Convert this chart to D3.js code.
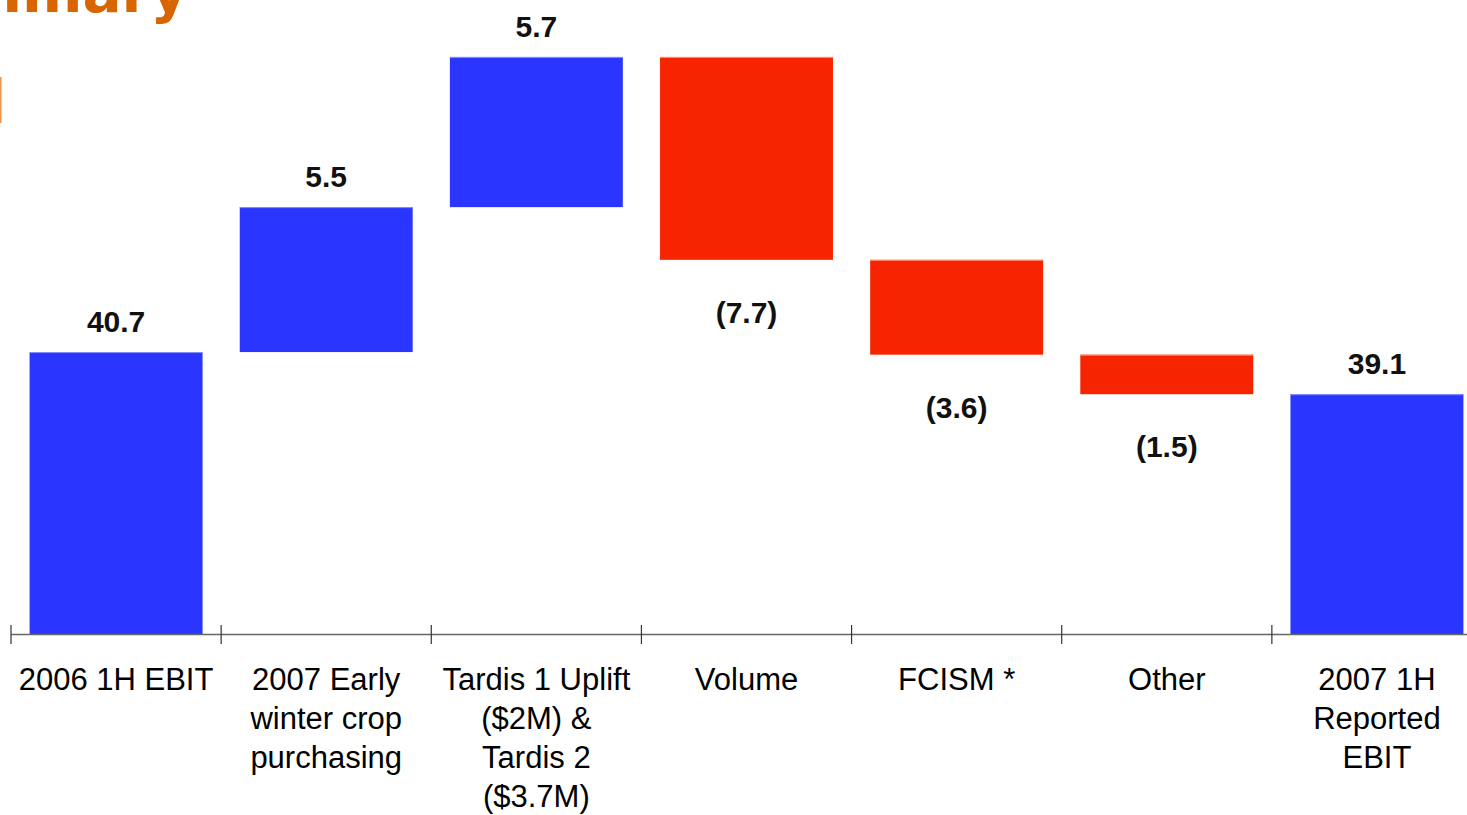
<!DOCTYPE html>
<html>
<head>
<meta charset="utf-8">
<script src="https://cdn.jsdelivr.net/npm/d3@7"></script>
<style>
  html, body { margin: 0; padding: 0; background: #ffffff; overflow: hidden; }
  svg { display: block; }
</style>
</head>
<body>
<svg id="chart" width="1467" height="815"></svg>
<script>
// EBIT bridge, 2006 1H -> 2007 1H ($M)
const categories = [
  "2006 1H EBIT",
  "2007 Early\nwinter crop\npurchasing",
  "Tardis 1 Uplift\n($2M) &\nTardis 2\n($3.7M)",
  "Volume",
  "FCISM *",
  "Other",
  "2007 1H\nReported\nEBIT"
];
const values = [40.7, 5.5, 5.7, -7.7, -3.6, -1.5, 39.1];
const kinds = ["total", "delta", "delta", "delta", "delta", "delta", "total"];
const valueAxisFloor = 30;   // value axis starts at 30
const valueAxisCeil = 52;
const titleText = "Summary";

const svg = d3.select("#chart");
const W = 1467;

// running totals for the waterfall
let running = 0;
const bars = categories.map((c, i) => {
  let lo, hi;
  if (kinds[i] === "total") {
    lo = valueAxisFloor; hi = values[i]; running = values[i];
  } else {
    const start = running;
    running = start + values[i];
    lo = Math.min(start, running); hi = Math.max(start, running);
  }
  return { cat: c, value: values[i], kind: kinds[i], lo, hi };
});

const x = d3.scaleBand()
  .domain(categories)
  .range([11, 1482])
  .paddingInner(0.177)
  .paddingOuter(0.0885);

const y = d3.scaleLinear()
  .domain([valueAxisFloor, valueAxisCeil])
  .range([634, 634 - 22 * 26.35]);

const blue = "#2a35ff", red = "#f72400";
const blueEdge = "#8a90ff", redEdge = "#ff8f78";

// slide title, running off the top-left corner
svg.append("text")
  .attr("x", 188).attr("y", 12)
  .attr("text-anchor", "end")
  .style("font-family", "'DejaVu Sans', sans-serif")
  .style("font-weight", "bold")
  .style("font-size", "58px")
  .attr("fill", "#d96500")
  .text(titleText);

svg.append("rect")
  .attr("x", 0).attr("y", 77).attr("width", 1.5).attr("height", 46)
  .attr("fill", "#ec944c");

// bars
const g = svg.append("g");
g.selectAll("rect.bar")
  .data(bars)
  .join("rect")
  .attr("class", "bar")
  .attr("x", d => x(d.cat))
  .attr("width", x.bandwidth())
  .attr("y", d => y(d.hi))
  .attr("height", d => y(d.lo) - y(d.hi))
  .attr("fill", d => d.value >= 0 ? blue : red);

// light top edge on each bar
g.selectAll("line.edge")
  .data(bars)
  .join("line")
  .attr("class", "edge")
  .attr("x1", d => x(d.cat))
  .attr("x2", d => x(d.cat) + x.bandwidth())
  .attr("y1", d => y(d.hi) + 0.5)
  .attr("y2", d => y(d.hi) + 0.5)
  .attr("stroke", d => d.value >= 0 ? blueEdge : redEdge)
  .attr("stroke-width", 1);

// category axis
const axisY = 634.5;
const step = x.step();
const firstEdge = x(categories[0]) - (step - x.bandwidth()) / 2;
svg.append("line")
  .attr("x1", firstEdge).attr("x2", W)
  .attr("y1", axisY).attr("y2", axisY)
  .attr("stroke", "#666").attr("stroke-width", 1.5);

svg.selectAll("line.tick")
  .data(d3.range(categories.length))
  .join("line")
  .attr("class", "tick")
  .attr("x1", i => firstEdge + i * step)
  .attr("x2", i => firstEdge + i * step)
  .attr("y1", 625).attr("y2", 644)
  .attr("stroke", "#333").attr("stroke-width", 1.2);

// category labels
const catText = svg.selectAll("text.cat")
  .data(categories)
  .join("text")
  .attr("class", "cat")
  .attr("text-anchor", "middle")
  .attr("x", d => x(d) + x.bandwidth() / 2)
  .attr("y", 690)
  .style("font-family", "'Liberation Sans', Arial, sans-serif")
  .style("font-size", "31px")
  .attr("fill", "#000");
catText.each(function(d) {
  const t = d3.select(this);
  const cx = x(d) + x.bandwidth() / 2;
  d.split("\n").forEach((line, k) => {
    t.append("tspan").attr("x", cx).attr("dy", k === 0 ? 0 : 39).text(line);
  });
});

// value labels
const fmt = v => v < 0 ? "(" + d3.format(".1f")(-v) + ")" : d3.format(".1f")(v);
svg.selectAll("text.val")
  .data(bars)
  .join("text")
  .attr("class", "val")
  .attr("text-anchor", "middle")
  .attr("x", d => x(d.cat) + x.bandwidth() / 2)
  .attr("y", d => d.value >= 0 ? y(d.hi) - 20 : y(d.lo) + 63)
  .style("font-family", "'Liberation Sans', Arial, sans-serif")
  .style("font-weight", "bold")
  .style("font-size", "30px")
  .attr("fill", "#111")
  .text(d => fmt(d.value));
</script>
</body>
</html>
